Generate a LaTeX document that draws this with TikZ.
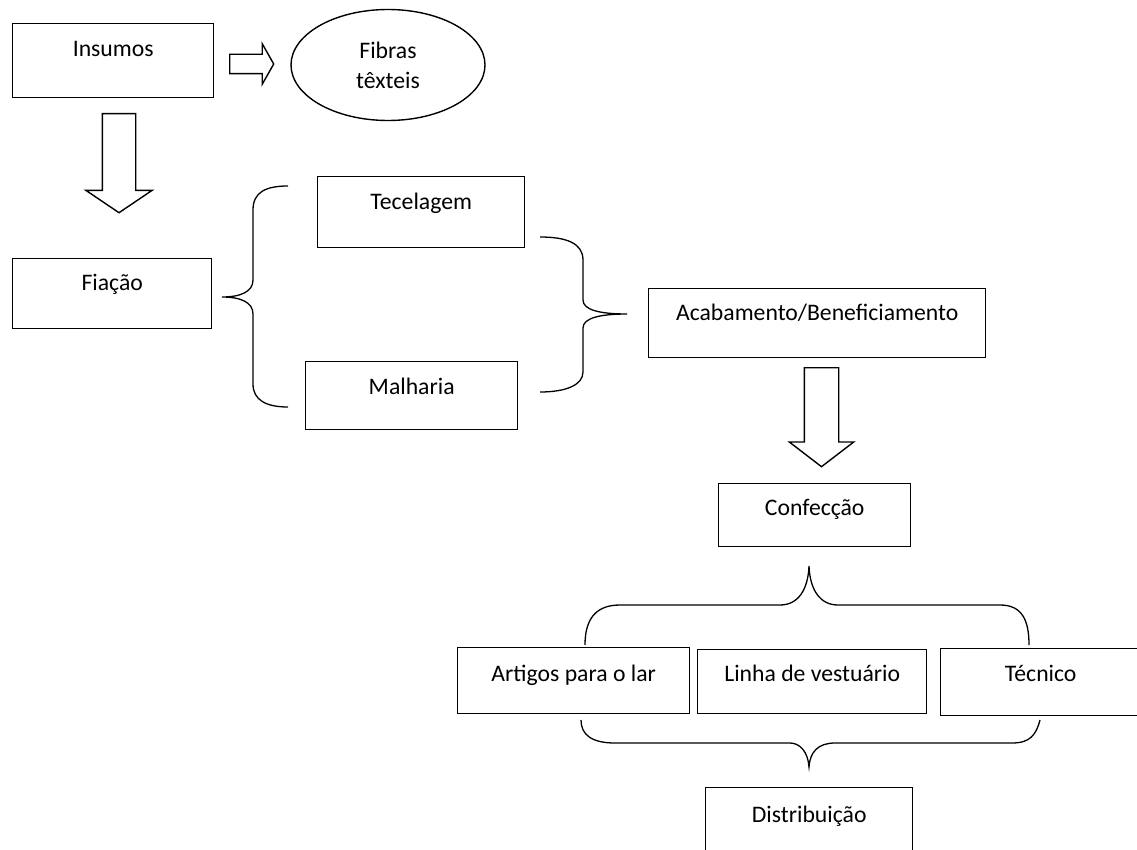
\documentclass[tikz,border=0pt]{standalone}
\usepackage{fontspec}
\setmainfont{Carlito}
\usetikzlibrary{shapes,arrows,positioning}

\begin{document}
\begin{tikzpicture}[x=1pt,y=-1pt,font=\fontsize{23.7}{30}\selectfont,
                   caixa/.style={draw,line width=1.4pt,inner sep=0pt,anchor=north west,text height=33pt},
                   seta/.style={draw,line width=1.4pt,single arrow,minimum width=0pt,anchor=tail},
                   chave/.style={draw,line width=1.3pt}]
\useasboundingbox (0,0) rectangle (1137,850);
\clip (0,0) rectangle (1137,850);
\node[caixa,minimum width=201pt,text depth=41pt] (insumos) at (12,23) {Insumos};
\node[draw,line width=1.4pt,ellipse,inner sep=0pt,minimum width=194pt,minimum height=111pt,align=center] (fibras) at (388,65) {Fibras\\têxteis};
\node[caixa,minimum width=199pt,text height=32pt,text depth=38pt] (fiacao) at (12,258) {Fiação};
\node[caixa,minimum width=207pt,text depth=38pt] (tecelagem) at (317,176) {Tecelagem};
\node[caixa,minimum width=212pt,text depth=35pt] (malharia) at (305,361) {Malharia};
\node[caixa,minimum width=337pt,text height=32pt,text depth=37pt] (acabamento) at (648,288) {Acabamento/Beneficiamento};
\node[caixa,minimum width=192pt,text height=32pt,text depth=31pt] (confeccao) at (718,483) {Confecção};
\node[caixa,minimum width=232pt,text height=34pt,text depth=32pt] (artigos) at (457,647) {Artigos para o lar};
\node[caixa,minimum width=229pt,text height=32pt,text depth=32pt] (vestuario) at (697,649) {Linha de vestuário};
\node[caixa,minimum width=200pt,text depth=34pt] (tecnico) at (940,648) {Técnico};
\node[caixa,minimum width=207pt,text height=35pt,text depth=37pt] (distribuicao) at (705,787) {Distribuição};

\node[seta,inner sep=9pt,single arrow head extend=10.5pt,single arrow tip angle=121,minimum height=44pt] (setaFibras) at (229,64) {};
\node[seta,inner sep=16pt,single arrow head extend=16.5pt,single arrow tip angle=112,minimum height=99pt,shape border rotate=270] (setaFiacao) at (119,113) {};
\node[seta,inner sep=16.5pt,single arrow head extend=15pt,single arrow tip angle=105,minimum height=99pt,shape border rotate=270] (setaConfeccao) at (821.5,367) {};

\draw[chave] (288,186) .. controls (266,186) and (253,192) .. (253,210) -- (253,280) .. controls (253,292) and (240,297) .. (222,297) .. controls (240,297) and (253,302) .. (253,314) -- (253,384) .. controls (253,400) and (266,407) .. (288,407);
\draw[chave] (540,237) .. controls (566,237) and (583,243) .. (583,260) -- (583,300) .. controls (583,310) and (600,314) .. (627,314) .. controls (600,314) and (583,318) .. (583,328) -- (583,372) .. controls (583,385) and (566,392) .. (540,392);
\draw[chave] (585,645) .. controls (585,620) and (595,605) .. (620,605) -- (780,605) .. controls (798,605) and (808,590) .. (809,566) .. controls (810,590) and (820,605) .. (838,605) -- (1000,605) .. controls (1022,605) and (1029,620) .. (1029,645);
\draw[chave] (581,720) .. controls (581,735) and (592,743) .. (615,743) -- (790,743) .. controls (800,743) and (808,752) .. (809,767) .. controls (810,752) and (818,743) .. (835,743) -- (1012,743) .. controls (1030,743) and (1036,735) .. (1040,720);
\end{tikzpicture}
\end{document}
